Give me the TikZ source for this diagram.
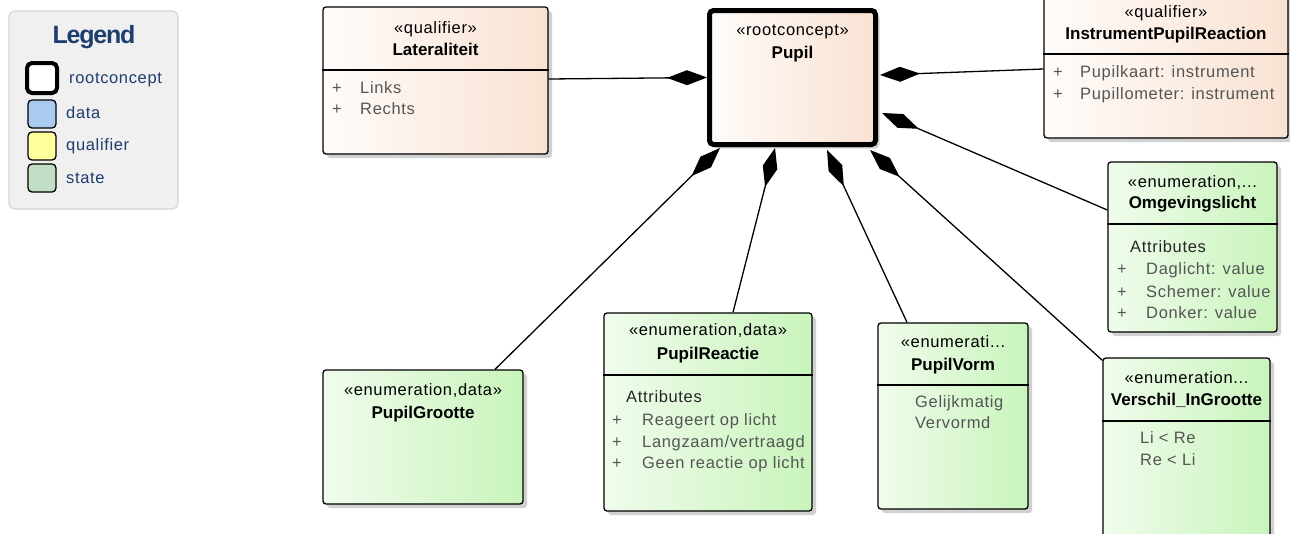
\documentclass[tikz,border=0pt]{standalone}
\usepackage{fontspec}
\setmainfont{Liberation Sans}
\newfontfamily\spacedfont{Liberation Sans}[LetterSpace=4]
\newfontfamily\legendfont{Liberation Sans}[LetterSpace=-5]
\usepackage{tikz}
\usetikzlibrary{arrows.meta,calc,positioning,shadows}

\definecolor{qualleft}{HTML}{FFFCFA}
\definecolor{qualright}{HTML}{F8E2D2}
\definecolor{enumleft}{HTML}{F0FCEC}
\definecolor{enumright}{HTML}{C9F4BC}
\definecolor{attrgray}{HTML}{555555}
\definecolor{legendblue}{HTML}{1F3D6E}
\definecolor{legendfill}{HTML}{F0F0F0}
\definecolor{legendedge}{HTML}{D6D6D6}
\definecolor{datablue}{HTML}{A9CBF0}
\definecolor{qualyellow}{HTML}{FFFF9E}
\definecolor{stategreen}{HTML}{C2DFC5}

\tikzset{
  classbox/.style={draw=black, line width=1.3pt, rounded corners=3pt, inner sep=0pt,
    drop shadow={shadow xshift=4pt, shadow yshift=-4pt, fill=black, opacity=0.18}},
  qualbox/.style={classbox, left color=qualleft, right color=qualright},
  enumbox/.style={classbox, left color=enumleft, right color=enumright},
  rootbox/.style={classbox, line width=5pt, rounded corners=4pt, left color=qualleft, right color=qualright},
  stereo/.style={font=\spacedfont\fontsize{16.5}{20}\selectfont, anchor=base, inner sep=0pt},
  title/.style={font=\bfseries\fontsize{17}{20}\selectfont, anchor=base, inner sep=0pt},
  attr/.style={font=\spacedfont\fontsize{16.5}{20}\selectfont, text=attrgray, anchor=base west, inner sep=0pt},
  attrhead/.style={font=\spacedfont\fontsize{16.5}{20}\selectfont, text=black!85, anchor=base west, inner sep=0pt},
  divider/.style={line width=1.3pt},
  comp/.style={line width=1.3pt, -{Diamond[length=40pt,width=15pt]}},
  legsquare/.style={draw=black, line width=1.3pt, rounded corners=4pt, minimum size=28pt, inner sep=0pt},
  legtext/.style={font=\spacedfont\fontsize{16.5}{20}\selectfont, text=legendblue, anchor=base west, inner sep=0pt},
}

\begin{document}
\begin{tikzpicture}[x=1pt,y=-1pt]
  \useasboundingbox (0,0) rectangle (1290,533);

  % Legend
  \node[draw=legendedge, fill=legendfill, line width=1.3pt, rounded corners=6pt,
        minimum width=169pt, minimum height=198pt] (legend) at (93.5,110) {};
  \node[font=\legendfont\bfseries\fontsize{25}{28}\selectfont, text=legendblue, anchor=base, inner sep=0pt]
        (legtitle) at (94,43) {Legend};
  \node[legsquare, line width=4pt, rounded corners=5pt, minimum size=30pt, fill=white] (legroot) at (42,78) {};
  \node[legtext] (legroottxt) at (69,83) {rootconcept};
  \node[legsquare, fill=datablue] (legdata) at (42,114) {};
  \node[legtext] (legdatatxt) at (66,118) {data};
  \node[legsquare, fill=qualyellow] (legqual) at (42,146) {};
  \node[legtext] (legqualtxt) at (66,150) {qualifier};
  \node[legsquare, fill=stategreen] (legstate) at (42,178) {};
  \node[legtext] (legstatetxt) at (66,183) {state};

  % Boxes
  \node[rootbox, minimum width=166pt, minimum height=134pt] (pupil) at (792.5,77.5) {};
  \node[qualbox, minimum width=225pt, minimum height=147pt] (lat) at (435.5,80.5) {};
  \node[qualbox, minimum width=244pt, minimum height=146pt] (instr) at (1166,65) {};
  \node[enumbox, minimum width=169pt, minimum height=170pt] (omg) at (1192.5,247) {};
  \node[enumbox, minimum width=167pt, minimum height=190pt] (verschil) at (1186.5,453) {};
  \node[enumbox, minimum width=150pt, minimum height=186pt] (vorm) at (953,416) {};
  \node[enumbox, minimum width=208pt, minimum height=198pt] (reactie) at (708,412) {};
  \node[enumbox, minimum width=200pt, minimum height=134pt] (grootte) at (423,437) {};

  % Pupil
  \node[stereo] (pupil-st) at (792.5,35) {«rootconcept»};
  \node[title] (pupil-t) at (792.5,58) {Pupil};

  % Lateraliteit
  \node[stereo] (lat-st) at (435.5,33) {«qualifier»};
  \node[title] (lat-t) at (435.5,55) {Lateraliteit};
  \draw[divider] (lat.west |- 0,70) -- (lat.east |- 0,70);
  \node[attr] (lat-p1) at (332,93) {+};
  \node[attr] (lat-a1) at (360,93) {Links};
  \node[attr] (lat-p2) at (332,114) {+};
  \node[attr] (lat-a2) at (360,114) {Rechts};

  % InstrumentPupilReaction
  \node[stereo] (instr-st) at (1166,17) {«qualifier»};
  \node[title] (instr-t) at (1166,39) {InstrumentPupilReaction};
  \draw[divider] (instr.west |- 0,54) -- (instr.east |- 0,54);
  \node[attr] (instr-p1) at (1053,77) {+};
  \node[attr] (instr-a1) at (1080,77) {Pupilkaart: instrument};
  \node[attr] (instr-p2) at (1053,99) {+};
  \node[attr] (instr-a2) at (1080,99) {Pupillometer: instrument};

  % Omgevingslicht
  \node[stereo] (omg-st) at (1192.5,187) {«enumeration,...};
  \node[title] (omg-t) at (1192.5,208) {Omgevingslicht};
  \draw[divider] (omg.west |- 0,224) -- (omg.east |- 0,224);
  \node[attrhead] (omg-h) at (1130,252) {Attributes};
  \node[attr] (omg-p1) at (1117,274) {+};
  \node[attr] (omg-a1) at (1146,274) {Daglicht: value};
  \node[attr] (omg-p2) at (1117,297) {+};
  \node[attr] (omg-a2) at (1146,297) {Schemer: value};
  \node[attr] (omg-p3) at (1117,318) {+};
  \node[attr] (omg-a3) at (1146,318) {Donker: value};

  % Verschil_InGrootte
  \node[stereo] (verschil-st) at (1186.5,383) {«enumeration...};
  \node[title] (verschil-t) at (1186.5,405) {Verschil\_InGrootte};
  \draw[divider] (verschil.west |- 0,421) -- (verschil.east |- 0,421);
  \node[attr] (verschil-a1) at (1140,443) {Li < Re};
  \node[attr] (verschil-a2) at (1140,465) {Re < Li};

  % PupilVorm
  \node[stereo] (vorm-st) at (953,347) {«enumerati...};
  \node[title] (vorm-t) at (953,370) {PupilVorm};
  \draw[divider] (vorm.west |- 0,385) -- (vorm.east |- 0,385);
  \node[attr] (vorm-a1) at (915,407) {Gelijkmatig};
  \node[attr] (vorm-a2) at (915,428) {Vervormd};

  % PupilReactie
  \node[stereo] (reactie-st) at (708,335) {«enumeration,data»};
  \node[title] (reactie-t) at (708,359) {PupilReactie};
  \draw[divider] (reactie.west |- 0,375) -- (reactie.east |- 0,375);
  \node[attrhead] (reactie-h) at (626,402) {Attributes};
  \node[attr] (reactie-p1) at (612,425) {+};
  \node[attr] (reactie-a1) at (642,425) {Reageert op licht};
  \node[attr] (reactie-p2) at (612,447) {+};
  \node[attr] (reactie-a2) at (642,447) {Langzaam/vertraagd};
  \node[attr] (reactie-p3) at (612,468) {+};
  \node[attr] (reactie-a3) at (642,468) {Geen reactie op licht};

  % PupilGrootte
  \node[stereo] (grootte-st) at (423,395) {«enumeration,data»};
  \node[title] (grootte-t) at (423,418) {PupilGrootte};

  % compositions
  \draw[comp] ([yshift=1.5pt]lat.east) -- (pupil.west);
  \draw[comp] ([yshift=-4pt]instr.west) -- ([xshift=2pt,yshift=2.5pt]pupil.east);
  \draw[comp] ([yshift=37pt]omg.west) -- ([xshift=4pt,yshift=-35.5pt]pupil.east);
  \draw[comp] ([yshift=-3pt]verschil.north west) -- ([xshift=77.5pt,yshift=-3pt]pupil.south);
  \draw[comp] ([xshift=-46pt]vorm.north) -- ([xshift=34.5pt,yshift=-3pt]pupil.south);
  \draw[comp] ([xshift=25pt]reactie.north) -- ([xshift=-17.5pt,yshift=-1pt]pupil.south);
  \draw[comp] ([xshift=72pt]grootte.north) -- ([xshift=-72.5pt,yshift=-1pt]pupil.south);
\end{tikzpicture}
\end{document}
